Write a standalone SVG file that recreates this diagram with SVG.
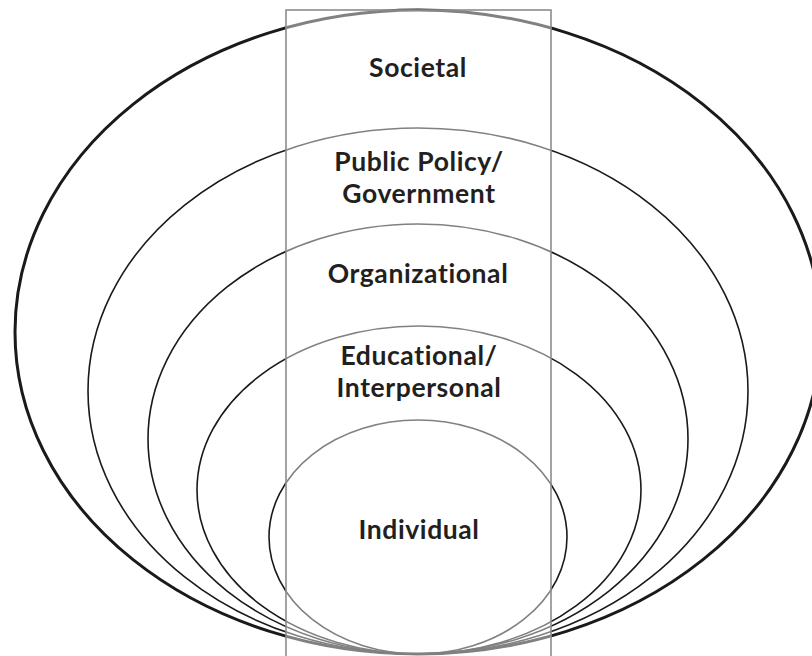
<svg xmlns="http://www.w3.org/2000/svg" width="812" height="656" viewBox="0 0 812 656">
<style>
.ring{fill:none;stroke:#1a1a1a;stroke-width:1.6}
.outer{stroke-width:3}
.lbl{font-family:Lato,"Open Sans","Liberation Sans",sans-serif;font-weight:700;font-size:26.5px;letter-spacing:0.6px;fill:#231f20;text-anchor:middle}
</style>
<rect width="812" height="656" fill="#ffffff"/>
<g id="rings">
<ellipse id="societal" class="ring outer" cx="418" cy="332" rx="403" ry="322"/>
<ellipse id="public-policy" class="ring" cx="418" cy="391" rx="330" ry="263"/>
<ellipse id="organizational" class="ring" cx="418" cy="439" rx="270" ry="215"/>
<ellipse id="educational" class="ring" cx="419" cy="490" rx="222" ry="164"/>
<ellipse id="individual" class="ring" cx="418" cy="537" rx="149" ry="117"/>
</g>
<rect id="band" x="286" y="10" width="265" height="660" fill="#ffffff" fill-opacity="0.45" stroke="#8c8c8c" stroke-width="1.6"/>
<g id="labels">
<text class="lbl" x="418" y="77">Societal</text>
<text class="lbl" x="419" y="171">Public Policy/</text>
<text class="lbl" x="419" y="203">Government</text>
<text class="lbl" x="418" y="283">Organizational</text>
<text class="lbl" x="419" y="365">Educational/</text>
<text class="lbl" x="419" y="397">Interpersonal</text>
<text class="lbl" x="419" y="539">Individual</text>
</g>
</svg>
